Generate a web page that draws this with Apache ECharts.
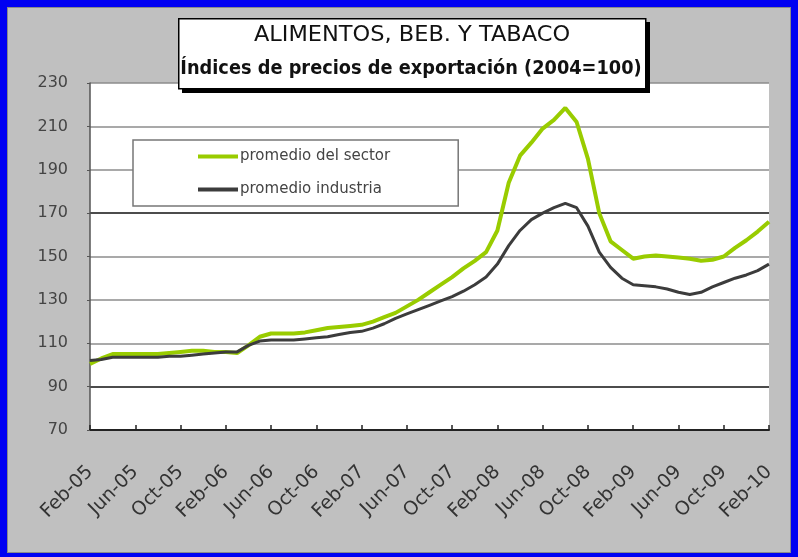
<!DOCTYPE html>
<html><head><meta charset="utf-8">
<script src="https://cdn.jsdelivr.net/npm/echarts@6/dist/echarts.min.js"></script>
<style>
html,body{margin:0;padding:0;background:#0000f2;width:798px;height:557px;overflow:hidden;}
#c{position:absolute;left:7px;top:7px;width:782px;height:544px;border:1px solid #8a8a8a;background:#c0c0c0;}
</style>
</head><body><div id="c"></div>
<script>
const categories = [
 'Feb-05','Mar-05','Apr-05','May-05','Jun-05','Jul-05','Aug-05','Sep-05','Oct-05','Nov-05','Dec-05','Jan-06',
 'Feb-06','Mar-06','Apr-06','May-06','Jun-06','Jul-06','Aug-06','Sep-06','Oct-06','Nov-06','Dec-06','Jan-07',
 'Feb-07','Mar-07','Apr-07','May-07','Jun-07','Jul-07','Aug-07','Sep-07','Oct-07','Nov-07','Dec-07','Jan-08',
 'Feb-08','Mar-08','Apr-08','May-08','Jun-08','Jul-08','Aug-08','Sep-08','Oct-08','Nov-08','Dec-08','Jan-09',
 'Feb-09','Mar-09','Apr-09','May-09','Jun-09','Jul-09','Aug-09','Sep-09','Oct-09','Nov-09','Dec-09','Jan-10',
 'Feb-10'
];
const seriesNames = ['promedio del sector', 'promedio industria'];
const sector = [
 100.5,103,105,105,105,105,105,105.5,106,106.5,106.5,106,
 106,105.5,109,113,114.5,114.5,114.5,115,116,117,117.5,118,
 118.5,120,122,124,127,130,133.5,137,140.5,144.5,148,152,
 162,184,196.5,202.5,209,213,218.5,212,195,170,157,153,
 149,150,150.5,150,149.5,149,148,148.5,150,154,157.5,161.5,
 166
];
const industria = [
 102,102.5,103.5,103.5,103.5,103.5,103.5,104,104,104.5,105,105.5,
 106,106,109,111,111.5,111.5,111.5,112,112.5,113,114,115,
 115.5,117,119,121.5,123.5,125.5,127.5,129.5,131.5,134,137,140.5,
 146.5,155,162,167,170,172.5,174.5,172.5,164,152,145,140,
 137,136.5,136,135,133.5,132.5,133.5,136,138,140,141.5,143.5,
 146.5
];
const yMin = 70, yMax = 230, yStep = 20;
const titleLine1 = 'ALIMENTOS, BEB. Y TABACO';
const titleLine2 = 'Índices de precios de exportación (2004=100)';

const gridColors = ['#000','#111','#8c8c8c','#8c8c8c','#8c8c8c','#111','#8c8c8c','#8c8c8c','#8c8c8c'];
const chart = echarts.init(document.getElementById('c'), null, {renderer:'canvas'});
const titleFont = "'DejaVu Sans',sans-serif";
chart.setOption({
  backgroundColor: '#c0c0c0',
  animation: false,
  grid: {left: 82, top: 75, right: 21, bottom: 122, show: true, backgroundColor: '#fff', borderWidth: 0},
  xAxis: {
    type: 'category', data: categories, boundaryGap: false,
    axisLine: {lineStyle: {color: '#222', width: 2}},
    axisTick: {inside: true, interval: 3, length: 5, lineStyle: {color: '#222', width: 1.5}},
    axisLabel: {interval: 3, rotate: 45, margin: 39, fontSize: 19, color: '#333', fontFamily: "'DejaVu Sans',sans-serif"},
    splitLine: {show: false}
  },
  yAxis: {
    type: 'value', min: yMin, max: yMax, interval: yStep,
    axisLine: {show: true, lineStyle: {color: '#555', width: 1.5}},
    axisTick: {show: true, length: 3, lineStyle: {color: '#555'}},
    axisLabel: {margin: 22, fontSize: 16, color: '#444', fontFamily: "'DejaVu Sans',sans-serif"},
    splitLine: {show: true, lineStyle: {color: gridColors, width: 1.5}}
  },
  legend: {
    orient: 'vertical', left: 125, top: 132, icon: 'rect', itemWidth: 40, itemHeight: 4, itemGap: 18,
    padding: [9, 68, 9, 65], backgroundColor: '#fff', borderColor: '#777', borderWidth: 1.5,
    textStyle: {fontSize: 15, color: '#444', padding: [0,0,0,-3], fontFamily: "'DejaVu Sans',sans-serif"},
    data: seriesNames
  },
  graphic: [
    {type: 'rect', left: 174, top: 14, shape: {width: 468, height: 71}, style: {fill: '#000'}, z: 100},
    {type: 'rect', left: 170, top: 10, shape: {width: 467, height: 70}, style: {fill: '#fff', stroke: '#000', lineWidth: 1.5}, z: 101},
    {type: 'text', x: 404, y: 28, scaleX: 1.07, z: 102,
     style: {text: titleLine1, font: "21px " + titleFont, fill: '#111', textAlign: 'center', textVerticalAlign: 'middle'}},
    {type: 'text', x: 403, y: 61, scaleX: 0.935, z: 102,
     style: {text: titleLine2, font: "bold 19px " + titleFont, fill: '#111', textAlign: 'center', textVerticalAlign: 'middle'}}
  ],
  series: [
    {name: seriesNames[0], type: 'line', data: sector, showSymbol: false, smooth: false,
     lineStyle: {color: '#99cc00', width: 4}, itemStyle: {color: '#99cc00'}},
    {name: seriesNames[1], type: 'line', data: industria, showSymbol: false,
     lineStyle: {color: '#3c3c3c', width: 3}, itemStyle: {color: '#3c3c3c'}}
  ]
});
</script>
</body></html>
